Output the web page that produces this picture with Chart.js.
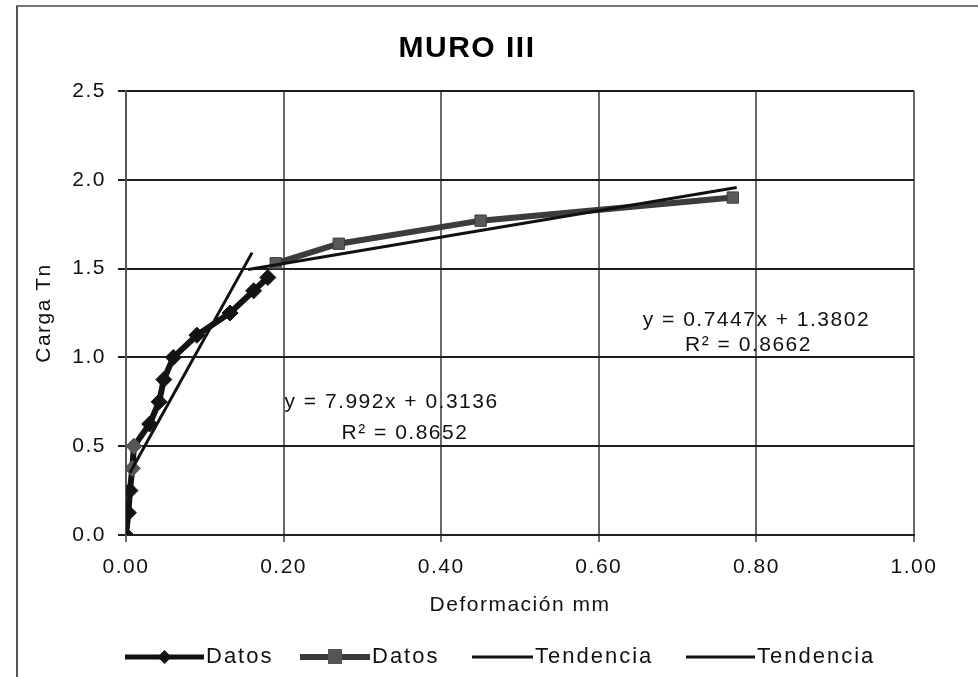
<!DOCTYPE html>
<html>
<head>
<meta charset="utf-8">
<script src="https://cdn.jsdelivr.net/npm/chart.js@4/dist/chart.umd.min.js"></script>
<style>
    html, body { margin: 0; padding: 0; background: #fff; }
    #wrap { position: relative; width: 978px; height: 677px; overflow: hidden; }
    #frame { position: absolute; left: 16px; top: 5px; width: 970px; height: 700px;
             border-left: 2px solid #555; border-top: 2px solid #777; }
    canvas { position: absolute; left: 0; top: 0; }
</style>
</head>
<body>
<div id="wrap">
    <div id="frame"></div>
    <canvas id="muroChart" width="978" height="677"></canvas>
</div>
<script>
// Datos (serie 1, rombos negros)
const datos1X = [0, 0.003, 0.005, 0.008, 0.010, 0.030, 0.042, 0.048, 0.060, 0.090, 0.132, 0.162, 0.180];
const datos1Y = [0, 0.125, 0.25, 0.375, 0.50, 0.625, 0.75, 0.875, 1.00, 1.125, 1.25, 1.375, 1.45];

// Datos (serie 2, cuadrados grises)
const datos2X = [0.19, 0.27, 0.45, 0.77];
const datos2Y = [1.53, 1.64, 1.77, 1.90];

// Tendencias (extremos)
const tend1X = [0.005, 0.160];
const tend1Y = [0.35, 1.59];
const tend2X = [0.155, 0.775];
const tend2Y = [1.495, 1.957];

const xTickValues = [0, 0.2, 0.4, 0.6, 0.8, 1.0];
const yTickValues = [0, 0.5, 1.0, 1.5, 2.0, 2.5];

const FONT = "'Liberation Sans', Arial, sans-serif";

function toPoints(xs, ys) {
    return xs.map((x, i) => ({ x: x, y: ys[i] }));
}

// the scanned chart has wide, stretched lettering
const spacingPlugin = {
    id: 'spacing',
    beforeUpdate(chart) { chart.ctx.letterSpacing = '1.5px'; },
    beforeDraw(chart) { chart.ctx.letterSpacing = '1.5px'; }
};

const notesPlugin = {
    id: 'notes',
    afterDatasetsDraw(chart) {
        const ctx = chart.ctx;
        const xs = chart.scales.x, ys = chart.scales.y;
        const notes = [
            { t: 'y = 7.992x + 0.3136', x: 0.337, y: 0.745 },
            { t: 'R\u00b2 = 0.8652', x: 0.354, y: 0.575 },
            { t: 'y = 0.7447x + 1.3802', x: 0.800, y: 1.210 },
            { t: 'R\u00b2 = 0.8662', x: 0.790, y: 1.070 }
        ];
        ctx.save();
        ctx.letterSpacing = '1.5px';
        ctx.font = '21px ' + FONT;
        ctx.fillStyle = '#111';
        ctx.textAlign = 'center';
        ctx.textBaseline = 'middle';
        notes.forEach(n => ctx.fillText(n.t, xs.getPixelForValue(n.x), ys.getPixelForValue(n.y)));
        ctx.restore();
    },
    afterDraw(chart) {
        // legend along the bottom
        const ctx = chart.ctx;
        const y = 657;
        const items = [
            { x0: 125, x1: 204, color: '#111', w: 5, marker: 'diamond', text: 'Datos' },
            { x0: 300, x1: 370, color: '#3a3a3a', w: 6, marker: 'square', text: 'Datos' },
            { x0: 472, x1: 533, color: '#111', w: 3, marker: null, text: 'Tendencia' },
            { x0: 686, x1: 755, color: '#111', w: 3, marker: null, text: 'Tendencia' }
        ];
        ctx.save();
        ctx.letterSpacing = '2px';
        ctx.font = '22px ' + FONT;
        ctx.textBaseline = 'middle';
        items.forEach(it => {
            ctx.strokeStyle = it.color;
            ctx.lineWidth = it.w;
            ctx.beginPath();
            ctx.moveTo(it.x0, y);
            ctx.lineTo(it.x1, y);
            ctx.stroke();
            const mx = (it.x0 + it.x1) / 2;
            ctx.fillStyle = it.color;
            if (it.marker === 'diamond') {
                ctx.beginPath();
                ctx.moveTo(mx, y - 7); ctx.lineTo(mx + 7, y); ctx.lineTo(mx, y + 7); ctx.lineTo(mx - 7, y);
                ctx.closePath();
                ctx.fill();
            } else if (it.marker === 'square') {
                ctx.fillStyle = '#555';
                ctx.fillRect(mx - 7, y - 8, 14, 15);
            }
            ctx.fillStyle = '#111';
            ctx.fillText(it.text, it.x1 + 2, y);
        });
        ctx.restore();
    }
};

new Chart(document.getElementById('muroChart').getContext('2d'), {
    type: 'scatter',
    data: {
        datasets: [
            {
                label: 'Datos',
                data: toPoints(datos1X, datos1Y),
                showLine: true,
                borderColor: '#141414',
                borderWidth: 6,
                pointStyle: 'rectRot',
                pointRadius: 8,
                pointBackgroundColor: datos1Y.map((v, i) => (i === 3 || i === 4) ? '#555' : '#141414'),
                pointBorderColor: datos1Y.map((v, i) => (i === 3 || i === 4) ? '#555' : '#141414'),
                pointBorderWidth: 1,
                order: 2
            },
            {
                label: 'Datos',
                data: toPoints(datos2X, datos2Y),
                showLine: true,
                borderColor: '#3c3c3c',
                borderWidth: 6,
                pointStyle: 'rect',
                pointRadius: 8,
                pointBackgroundColor: '#5a5a5a',
                pointBorderColor: '#3c3c3c',
                pointBorderWidth: 1,
                order: 2
            },
            {
                label: 'Tendencia',
                data: toPoints(tend1X, tend1Y),
                showLine: true,
                borderColor: '#111',
                borderWidth: 3,
                pointRadius: 0,
                order: 1
            },
            {
                label: 'Tendencia',
                data: toPoints(tend2X, tend2Y),
                showLine: true,
                borderColor: '#111',
                borderWidth: 3,
                pointRadius: 0,
                order: 1
            }
        ]
    },
    options: {
        responsive: false,
        animation: false,
        layout: { padding: { left: 20, right: 64, top: 8, bottom: 52 } },
        plugins: {
            legend: { display: false },
            tooltip: { enabled: false },
            title: {
                display: true,
                text: 'MURO III',
                color: '#000',
                font: { family: FONT, size: 30, weight: 'bold' },
                padding: { top: 23, bottom: 24 }
            }
        },
        scales: {
            x: {
                type: 'linear',
                min: 0,
                max: 1,
                afterBuildTicks(scale) { scale.ticks = xTickValues.map(v => ({ value: v })); },
                afterFit(scale) { scale.height = 90; },
                ticks: {
                    color: '#111',
                    padding: 13,
                    font: { family: FONT, size: 21 },
                    callback: v => v.toFixed(2)
                },
                grid: { color: '#6a6a6a', lineWidth: 2, tickLength: 7 },
                border: { color: '#222', width: 2 },
                title: {
                    display: true,
                    text: 'Deformación mm',
                    color: '#111',
                    font: { family: FONT, size: 21 },
                    padding: { top: 4, bottom: 7 }
                }
            },
            y: {
                type: 'linear',
                min: 0,
                max: 2.5,
                afterBuildTicks(scale) { scale.ticks = yTickValues.map(v => ({ value: v })); },
                afterFit(scale) { scale.width = 106; },
                ticks: {
                    color: '#111',
                    padding: 12,
                    font: { family: FONT, size: 21 },
                    callback: v => v.toFixed(1)
                },
                grid: { color: '#1e1e1e', lineWidth: 2, tickLength: 8 },
                border: { color: '#555', width: 2 },
                title: {
                    display: true,
                    text: 'Carga Tn',
                    color: '#111',
                    font: { family: FONT, size: 21 },
                    padding: { top: 12, bottom: 0 }
                }
            }
        }
    },
    plugins: [spacingPlugin, notesPlugin]
});
</script>
</body>
</html>
